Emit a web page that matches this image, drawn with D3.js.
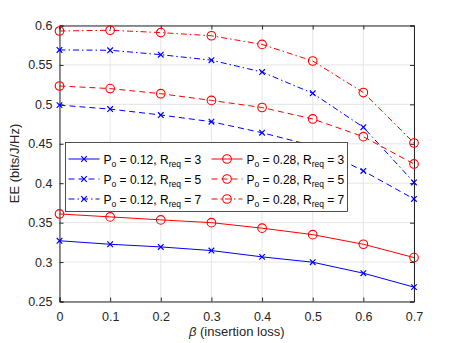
<!DOCTYPE html>
<html>
<head>
<meta charset="utf-8">
<script src="https://cdn.jsdelivr.net/npm/d3@7"></script>
<style>
  body { margin: 0; background: #fff; }
  text { font-family: "Liberation Sans", Arial, sans-serif; }
</style>
</head>
<body>
<div id="chart"></div>
<script>
// data
var betas = [0, 0.1, 0.2, 0.3, 0.4, 0.5, 0.6, 0.7];
var xTicks = [0, 0.1, 0.2, 0.3, 0.4, 0.5, 0.6, 0.7];
var yTicks = [0.25, 0.3, 0.35, 0.4, 0.45, 0.5, 0.55, 0.6];

var ee_012_r3 = [0.327, 0.3226, 0.3192, 0.3146, 0.3066, 0.2998, 0.2859, 0.2682];
var ee_012_r5 = [0.499, 0.494, 0.4865, 0.478, 0.464, 0.4476, 0.4156, 0.380];
var ee_012_r7 = [0.569, 0.5686, 0.563, 0.556, 0.541, 0.514, 0.471, 0.401];
var ee_028_r3 = [0.361, 0.3573, 0.3535, 0.350, 0.343, 0.3348, 0.3226, 0.3057];
var ee_028_r5 = [0.5233, 0.520, 0.5135, 0.505, 0.496, 0.4815, 0.459, 0.4244];
var ee_028_r7 = [0.593, 0.594, 0.591, 0.587, 0.576, 0.555, 0.515, 0.451];

var series = [
  { po: "0.12", r: "3", vals: ee_012_r3, color: "#0000ff", dash: null, mark: "x" },
  { po: "0.12", r: "5", vals: ee_012_r5, color: "#0000ff", dash: "6,4", mark: "x" },
  { po: "0.12", r: "7", vals: ee_012_r7, color: "#0000ff", dash: "6,3,1.5,3", mark: "x" },
  { po: "0.28", r: "3", vals: ee_028_r3, color: "#ff0000", dash: null, mark: "o" },
  { po: "0.28", r: "5", vals: ee_028_r5, color: "#ff0000", dash: "6,4", mark: "o" },
  { po: "0.28", r: "7", vals: ee_028_r7, color: "#ff0000", dash: "6,3,1.5,3", mark: "o" }
];

var margin = { top: 25.5, right: 43, bottom: 41.5, left: 59.5 },
    width = 457 - margin.left - margin.right,
    height = 343 - margin.top - margin.bottom;

var svg = d3.select("#chart")
    .append("svg")
    .attr("width", 457)
    .attr("height", 343)
    .append("g")
    .attr("transform", "translate(" + margin.left + "," + margin.top + ")");

var x = d3.scaleLinear().domain([0, 0.7]).range([0, width]);
var y = d3.scaleLinear().domain([0.25, 0.6]).range([height, 0]);

// grid
svg.append("g").selectAll("line.gx")
    .data(xTicks).enter().append("line")
    .attr("x1", d => x(d)).attr("x2", d => x(d))
    .attr("y1", 0).attr("y2", height)
    .attr("stroke", "#e6e6e6").attr("stroke-width", 1);
svg.append("g").selectAll("line.gy")
    .data(yTicks).enter().append("line")
    .attr("x1", 0).attr("x2", width)
    .attr("y1", d => y(d)).attr("y2", d => y(d))
    .attr("stroke", "#e6e6e6").attr("stroke-width", 1);

// axes (MATLAB style, ticks inside)
var axColor = "#262626";
var xAxis = svg.append("g")
    .attr("transform", "translate(0," + height + ")")
    .call(d3.axisBottom(x).tickValues(xTicks).tickSize(-4).tickPadding(11).tickFormat(d3.format("")));
var xAxisTop = svg.append("g")
    .call(d3.axisTop(x).tickValues(xTicks).tickSize(-4).tickFormat(""));
var yAxis = svg.append("g")
    .call(d3.axisLeft(y).tickValues(yTicks).tickSize(-4).tickPadding(7).tickFormat(d3.format("")));
var yAxisRight = svg.append("g")
    .attr("transform", "translate(" + width + ",0)")
    .call(d3.axisRight(y).tickValues(yTicks).tickSize(-4).tickFormat(""));

[xAxis, xAxisTop, yAxis, yAxisRight].forEach(function (a) {
  a.select(".domain").attr("stroke", axColor);
  a.selectAll(".tick line").attr("stroke", axColor);
  a.selectAll(".tick text").attr("fill", axColor).style("font-size", "12.5px")
    .style("font-family", "Liberation Sans, Arial, sans-serif");
});

// lines
var line = d3.line()
    .x(function (d, i) { return x(betas[i]) })
    .y(function (d) { return y(d) });

function drawMarker(g, mark, color, cx, cy) {
  if (mark === "x") {
    var s = 2.8;
    g.append("path")
      .attr("d", "M" + (cx - s) + "," + (cy - s) + "L" + (cx + s) + "," + (cy + s) +
                 "M" + (cx - s) + "," + (cy + s) + "L" + (cx + s) + "," + (cy - s))
      .attr("stroke", color).attr("stroke-width", 1.2).attr("fill", "none");
  } else {
    g.append("circle")
      .attr("cx", cx).attr("cy", cy).attr("r", 4.3)
      .attr("stroke", color).attr("stroke-width", 1.1).attr("fill", "none");
  }
}

series.forEach(function (s) {
  var g = svg.append("g");
  g.append("path")
    .datum(s.vals)
    .attr("d", line)
    .attr("fill", "none")
    .attr("stroke", s.color)
    .attr("stroke-width", 1)
    .attr("stroke-dasharray", s.dash);
  s.vals.forEach(function (v, i) {
    drawMarker(g, s.mark, s.color, x(betas[i]), y(v));
  });
});

// legend
var leg = svg.append("g").attr("transform", "translate(" + (65.5 - margin.left) + "," + (142.5 - margin.top) + ")");
leg.append("rect")
  .attr("width", 282).attr("height", 69)
  .attr("fill", "#fff").attr("stroke", "#262626").attr("stroke-width", 0.8);

series.forEach(function (s, i) {
  var col = i < 3 ? 0 : 1, row = i % 3;
  var lx = 3 + col * 143, ly = 16.5 + row * 20;
  leg.append("line")
    .attr("x1", lx).attr("x2", lx + 31)
    .attr("y1", ly).attr("y2", ly)
    .attr("stroke", s.color).attr("stroke-width", 1)
    .attr("stroke-dasharray", s.dash);
  drawMarker(leg, s.mark, s.color, lx + 15.5, ly);
  var t = leg.append("text")
    .attr("x", lx + 35).attr("y", ly + 4.5)
    .attr("fill", "#000")
    .style("font-size", "12px");
  t.append("tspan").text("P");
  t.append("tspan").attr("dy", 3.5).style("font-size", "8.5px").text("o");
  t.append("tspan").attr("dy", -3.5).text(" = " + s.po + ", R");
  t.append("tspan").attr("dy", 3.5).style("font-size", "8.5px").text("req");
  t.append("tspan").attr("dy", -3.5).text(" = " + s.r);
});

// axis labels
svg.append("text")
  .attr("transform", "translate(" + (-41) + "," + (height / 2) + ") rotate(-90)")
  .attr("text-anchor", "middle")
  .attr("fill", axColor)
  .style("font-size", "13px")
  .text("EE (bits/J/Hz)");

var xl = svg.append("text")
  .attr("x", width / 2).attr("y", height + 34)
  .attr("text-anchor", "middle")
  .attr("fill", axColor)
  .style("font-size", "13px");
xl.append("tspan").style("font-style", "italic").text("\u03b2");
xl.append("tspan").text(" (insertion loss)");
</script>
</body>
</html>
